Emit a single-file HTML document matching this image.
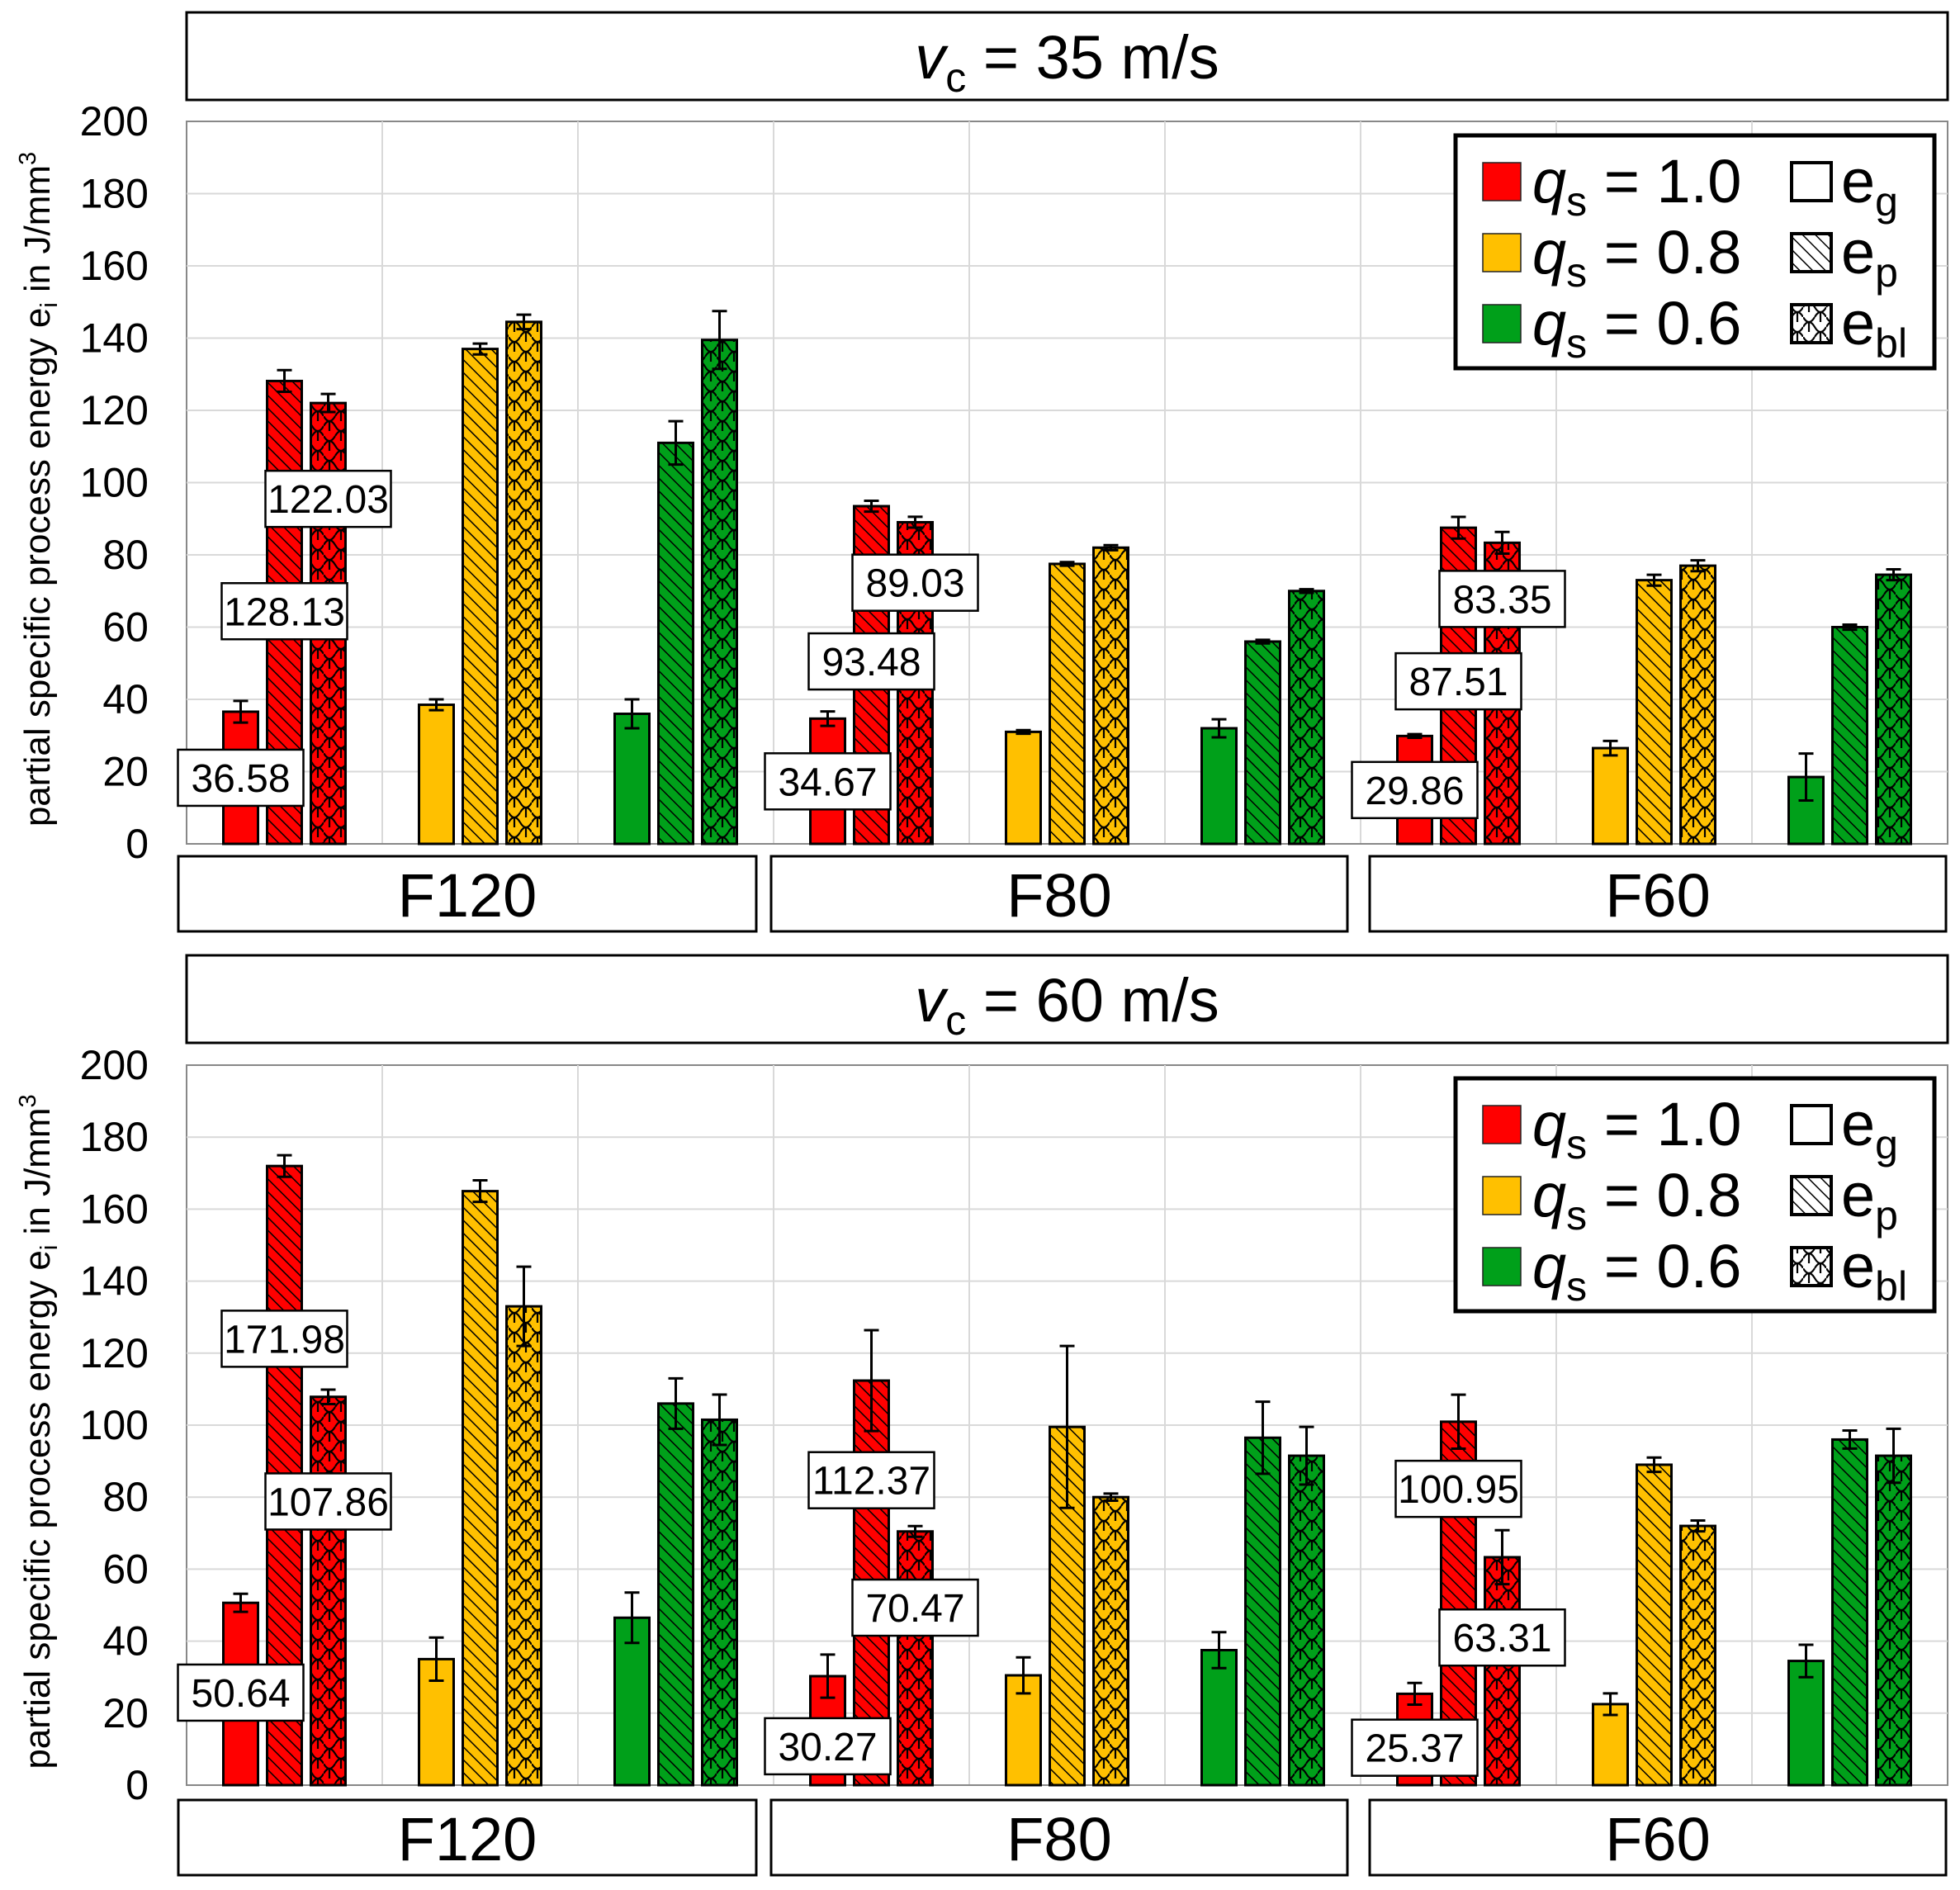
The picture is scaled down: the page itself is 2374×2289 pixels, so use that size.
<!DOCTYPE html>
<html><head><meta charset="utf-8"><style>
html,body{margin:0;padding:0;background:#fff}
svg{display:block}
text{font-family:"Liberation Sans",sans-serif;fill:#000}
</style></head><body>
<svg id="chart" xmlns="http://www.w3.org/2000/svg" width="2374" height="2289" viewBox="0 0 2374 2289">
<defs>
<pattern id="hatch" patternUnits="userSpaceOnUse" width="11" height="11" patternTransform="rotate(-45)">
<line x1="0" y1="0" x2="0" y2="11" stroke="#000" stroke-width="3"/>
</pattern>
<pattern id="scale" patternUnits="userSpaceOnUse" width="28" height="24">
<path d="M0 12 Q7 0 14 12 Q21 24 28 12 M0 0 Q7 12 14 0 M14 24 Q21 12 28 24 M7 6 L7 18 M21 0 L21 6 M21 18 L21 24" stroke="#000" stroke-width="2.2" fill="none"/>
</pattern>
</defs>
</svg>
<script>
// ---- data ----
const groups = ["F120", "F80", "F60"];
const qsLabels = ["1.0", "0.8", "0.6"];
const yTicks = [0, 20, 40, 60, 80, 100, 120, 140, 160, 180, 200];
const panelTitles = ["35", "60"];
const egTop  = [36.58, 38.5, 36, 34.67, 31, 32, 29.86, 26.5, 18.5];
const epTop  = [128.13, 137, 111, 93.48, 77.5, 56, 87.51, 73, 60];
const eblTop = [122.03, 144.5, 139.5, 89.03, 82, 70, 83.35, 77, 74.5];
const egErrTop  = [3, 1.5, 4, 2, 0.5, 2.5, 0.5, 2, 6.5];
const epErrTop  = [3, 1.5, 6, 1.5, 0.5, 0.5, 3, 1.5, 0.7];
const eblErrTop = [2.5, 2, 8, 1.5, 0.7, 0.5, 3, 1.5, 1.5];
const egBot  = [50.64, 35, 46.5, 30.27, 30.5, 37.5, 25.37, 22.5, 34.5];
const epBot  = [171.98, 165, 106, 112.37, 99.5, 96.5, 100.95, 89, 96];
const eblBot = [107.86, 133, 101.5, 70.47, 80, 91.5, 63.31, 72, 91.5];
const egErrBot  = [2.5, 6, 7, 6, 5, 5, 3, 3, 4.5];
const epErrBot  = [3, 3, 7, 14, 22.5, 10, 7.5, 2, 2.5];
const eblErrBot = [2, 11, 7, 1.5, 1, 8, 7.5, 1.5, 7.5];
const labelYTop = [[18.3, 64.4, 95.5], [17.3, 50.5, 72.3], [14.9, 45, 67.8]];
const labelYBot = [[25.7, 124, 78.8], [10.8, 84.7, 49.3], [10.4, 82.3, 41]];

const colors = ["#ff0000", "#ffc000", "#00a01a"];
const NS = "http://www.w3.org/2000/svg";
const svg = document.getElementById("chart");
function el(tag, attrs, parent) {
  const e = document.createElementNS(NS, tag);
  for (const k in attrs) e.setAttribute(k, attrs[k]);
  (parent || svg).appendChild(e);
  return e;
}
const X0 = 226, X1 = 2359, slotW = (X1 - X0) / 9;

function drawPanel(p, top, bottom, titleY, eg, ep, ebl, egE, epE, eblE, labY, boxY, legY) {
  const g = el("g", {});
  
  
  const y = v => bottom - (v / 200) * (bottom - top);
  const tb = el("rect", {x: X0, y: titleY, width: X1 - X0, height: 106, fill: "#fff", stroke: "#000", "stroke-width": 3}, g);
  
  
  const tt = el("text", {x: (X0 + X1) / 2, y: titleY + 80, "font-size": 74, "text-anchor": "middle"}, g);
  
  
  tt.innerHTML = '<tspan font-style="italic">v</tspan><tspan font-size="50" dy="16">c</tspan><tspan dy="-16"> = ' + panelTitles[p] + ' m/s</tspan>';
  const pa = el("rect", {x: X0, y: top, width: X1 - X0, height: bottom - top, fill: "#fff", stroke: "#888", "stroke-width": 2}, g);
  
  
  yTicks.forEach(t => {
    if (t > 0 && t < 200) {
      const gl = el("line", {x1: X0, x2: X1, y1: y(t), y2: y(t), stroke: "#d9d9d9", "stroke-width": 2}, g);
      
      
    }
    const tl = el("text", {x: 180, y: y(t) + 17, "font-size": 50, "text-anchor": "end"}, g);
    
    
    tl.textContent = t;
  });
  for (let i = 1; i < 9; i++) {
    const vx = X0 + i * slotW;
    const gl = el("line", {x1: vx, x2: vx, y1: top, y2: bottom, stroke: "#d9d9d9", "stroke-width": 2}, g);
    
    
  }
  const axl = el("line", {x1: X0, x2: X1, y1: bottom, y2: bottom, stroke: "#888", "stroke-width": 2}, g);
  
  
  const yt = el("text", {x: 0, y: 0, "font-size": 44, "text-anchor": "middle", transform: "translate(60," + ((top + bottom) / 2 + 8) + ") rotate(-90)"}, g);
  
  
  yt.innerHTML = 'partial specific process energy e<tspan font-size="29" dy="9">i</tspan><tspan dy="-9"> in J/mm</tspan><tspan font-size="29" dy="-17">3</tspan>';
  const series = [eg, ep, ebl], errs = [egE, epE, eblE], pats = [null, "url(#hatch)", "url(#scale)"];
  const bw = 42, off = [-53, 0, 53];
  for (let s = 0; s < 9; s++) {
    const cx = X0 + (s + 0.5) * slotW;
    const col = colors[s % 3];
    for (let k = 0; k < 3; k++) {
      const v = series[k][s], e = errs[k][s];
      const bx = cx + off[k] - bw / 2;
      const r = el("rect", {x: bx, y: y(v), width: bw, height: bottom - y(v), fill: col}, g);
      
      
      if (pats[k]) el("rect", {x: bx, y: y(v), width: bw, height: bottom - y(v), fill: pats[k]}, g);
      el("rect", {x: bx, y: y(v), width: bw, height: bottom - y(v), fill: "none", stroke: "#000", "stroke-width": 3}, g);
      const ex = cx + off[k];
      const eb = el("path", {d: "M" + ex + " " + y(v + e) + "V" + y(v - e) + "M" + (ex - 9) + " " + y(v + e) + "H" + (ex + 9) + "M" + (ex - 9) + " " + y(v - e) + "H" + (ex + 9), stroke: "#000", "stroke-width": 3, fill: "none"}, g);
      
      
    }
    if (s % 3 === 0) {
      const gi = s / 3;
      for (let k = 0; k < 3; k++) {
        const lx = cx + off[k], ly = y(labY[gi][k]);
        const lb = el("rect", {x: lx - 76, y: ly - 34, width: 152, height: 68, fill: "#fff", stroke: "#000", "stroke-width": 2.5}, g);
        
        
        const lt = el("text", {x: lx, y: ly + 17, "font-size": 48, "text-anchor": "middle"}, g);
        
        
        lt.textContent = series[k][s].toFixed(2);
      }
    }
  }
  const gb = [[216, 916], [934, 1632], [1659, 2357]];
  groups.forEach((gn, i) => {
    const b = el("rect", {x: gb[i][0], y: boxY, width: gb[i][1] - gb[i][0], height: 91, fill: "#fff", stroke: "#000", "stroke-width": 3}, g);
    
    
    const t = el("text", {x: (gb[i][0] + gb[i][1]) / 2, y: boxY + 73, "font-size": 74, "text-anchor": "middle"}, g);
    
    
    t.textContent = gn;
  });
  const lg = el("g", {}, g);
  
  
  el("rect", {x: 1763, y: legY, width: 580, height: 282, fill: "#fff", stroke: "#000", "stroke-width": 5}, lg);
  const eNames = ["g", "p", "bl"];
  for (let r = 0; r < 3; r++) {
    const cy = legY + 56 + r * 86;
    const sw = el("rect", {x: 1796, y: cy - 23, width: 46, height: 46, fill: colors[r], stroke: "#222", "stroke-width": 1.5}, lg);
    
    
    const t = el("text", {x: 1856, y: cy + 25, "font-size": 74}, lg);
    
    
    t.innerHTML = '<tspan font-style="italic">q</tspan><tspan font-size="50" dy="16">s</tspan><tspan dy="-16"> = ' + qsLabels[r] + '</tspan>';
    el("rect", {x: 2170, y: cy - 23, width: 48, height: 46, fill: "#fff", stroke: "#000", "stroke-width": 4}, lg);
    if (r > 0) el("rect", {x: 2172, y: cy - 21, width: 44, height: 42, fill: pats[r]}, lg);
    const t2 = el("text", {x: 2230, y: cy + 25, "font-size": 74}, lg);
    
    
    t2.innerHTML = 'e<tspan font-size="50" dy="16">' + eNames[r] + '</tspan>';
  }
}
drawPanel(0, 147, 1022, 15, egTop, epTop, eblTop, egErrTop, epErrTop, eblErrTop, labelYTop, 1037, 164);
drawPanel(1, 1290, 2162, 1157, egBot, epBot, eblBot, egErrBot, epErrBot, eblErrBot, labelYBot, 2180, 1306);
</script>
</body></html>
